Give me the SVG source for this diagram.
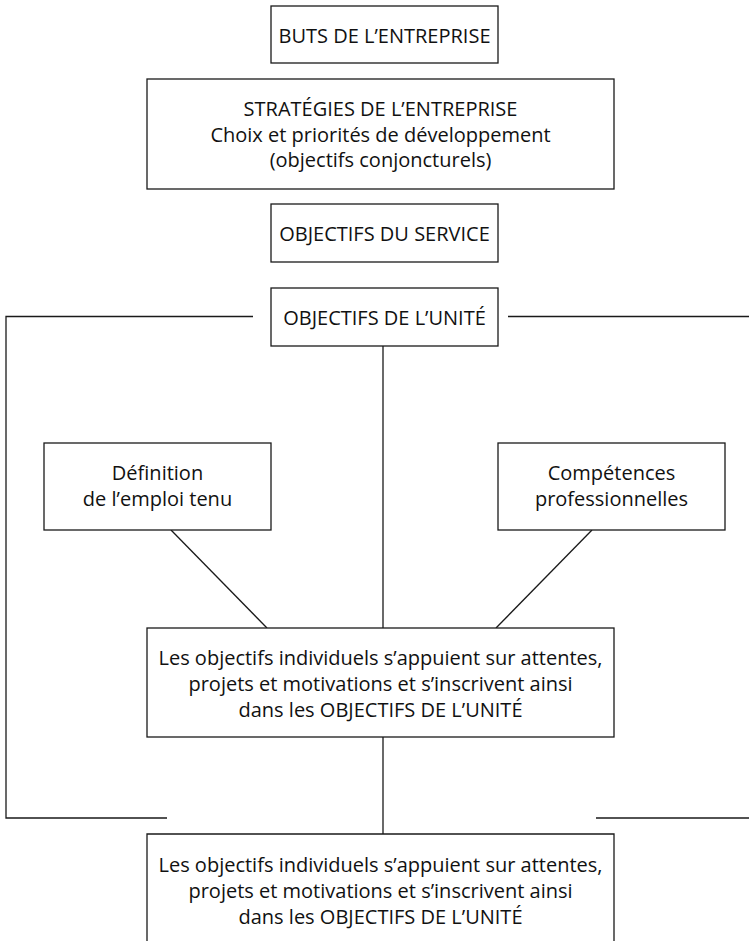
<svg xmlns="http://www.w3.org/2000/svg" width="749" height="941" viewBox="0 0 749 941">
<style>
.box{fill:#fff;stroke:#1a1a1a;stroke-width:1.3}
.ln{fill:none;stroke:#1a1a1a;stroke-width:1.3}
text{font-family:"Open Sans","Noto Sans","Liberation Sans",sans-serif;font-size:20px;fill:#111;text-anchor:middle}
</style>
<rect width="749" height="941" fill="#fff"/>
<g id="connectors">
<path class="ln" d="M253,316.5 H6 V818 H167"/>
<path class="ln" d="M508,316.5 H749"/>
<path class="ln" d="M596,818 H749"/>
<path class="ln" d="M383,346 V628"/>
<path class="ln" d="M171,530 L267,628"/>
<path class="ln" d="M592,530 L496,628"/>
<path class="ln" d="M383,737 V834"/>
</g>
<g id="buts">
<rect class="box" x="271" y="6" width="227" height="57"/>
<text x="384.5" y="43">BUTS DE L’ENTREPRISE</text>
</g>
<g id="strategies">
<rect class="box" x="147" y="79" width="467" height="110"/>
<text x="380.5" y="116">STRATÉGIES DE L’ENTREPRISE</text>
<text x="380.5" y="141.5">Choix et priorités de développement</text>
<text x="380.5" y="167">(objectifs conjoncturels)</text>
</g>
<g id="service">
<rect class="box" x="271" y="204" width="227" height="58"/>
<text x="384.5" y="240.5">OBJECTIFS DU SERVICE</text>
</g>
<g id="unite">
<rect class="box" x="271" y="288" width="227" height="58"/>
<text x="384.5" y="325">OBJECTIFS DE L’UNITÉ</text>
</g>
<g id="definition">
<rect class="box" x="44" y="443" width="227" height="87"/>
<text x="157.5" y="480">Définition</text>
<text x="157.5" y="506">de l’emploi tenu</text>
</g>
<g id="competences">
<rect class="box" x="498" y="443" width="227" height="87"/>
<text x="611.5" y="480">Compétences</text>
<text x="611.5" y="506">professionnelles</text>
</g>
<g id="individuels1">
<rect class="box" x="147" y="628" width="467" height="109"/>
<text x="380.5" y="665">Les objectifs individuels s’appuient sur attentes,</text>
<text x="380.5" y="691">projets et motivations et s’inscrivent ainsi</text>
<text x="380.5" y="717">dans les OBJECTIFS DE L’UNITÉ</text>
</g>
<g id="individuels2">
<path class="ln" d="M147,960 V834 H614 V960"/>
<text x="380.5" y="871.5">Les objectifs individuels s’appuient sur attentes,</text>
<text x="380.5" y="897.5">projets et motivations et s’inscrivent ainsi</text>
<text x="380.5" y="923.5">dans les OBJECTIFS DE L’UNITÉ</text>
</g>
</svg>
